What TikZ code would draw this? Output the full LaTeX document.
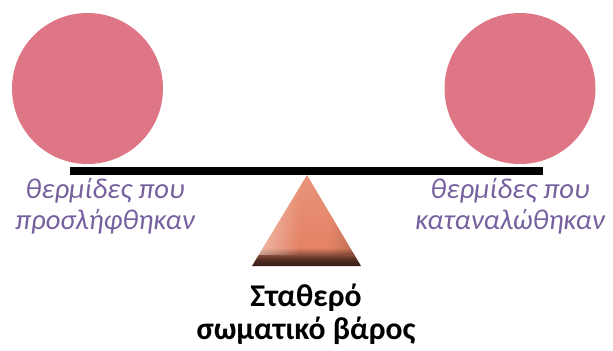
\documentclass[tikz,border=0pt]{standalone}
\usepackage{fontspec}
\setmainfont{Carlito}
\usetikzlibrary{calc,fadings}
\definecolor{calpink}{RGB}{223,118,134}
\definecolor{calpurple}{RGB}{118,96,158}
\definecolor{wedge}{RGB}{228,130,100}
\definecolor{wedgedark}{RGB}{52,28,20}
\pgfdeclareverticalshading{wedgeshade}{100bp}{color(0bp)=(wedgedark); color(25bp)=(wedgedark); color(29bp)=(wedgedark!80!wedge); color(35bp)=(wedge); color(75bp)=(wedge!85!white); color(100bp)=(wedge!85!white)}

\begin{document}
\begin{tikzpicture}[
    scale=1.0,
    weight/.style={circle, fill=calpink, minimum size=3.02cm, inner sep=0pt},
    side/.style={align=center, text=calpurple, font=\fontsize{16.3}{17.6}\selectfont\itshape},
    result/.style={align=center, font=\fontsize{18}{18.7}\selectfont\bfseries},
    beam/.style={line width=0.16cm}
]
  \useasboundingbox (0,0) rectangle (12.26,7);
  % the two piles of calories
  \node[weight] (intake) at (1.75,5.23) {};
  \node[weight] (burned) at (10.4,5.23) {};
  % beam and pivot
  \coordinate (beamL) at (1.4,3.58);
  \coordinate (beamR) at (10.86,3.58);
  \draw[beam] (beamL) -- (beamR);
  \coordinate (top) at (6.14,3.5);
  \coordinate (baseL) at (5.04,1.68);
  \coordinate (baseR) at (7.22,1.68);
  \shade[shading=wedgeshade] (top) -- (baseL) -- (baseR) -- cycle;
  \begin{scope}
    \clip (top) -- (baseL) -- (baseR) -- cycle;
    \fill[white, opacity=0.5, path fading=east] (5.04,1.9) rectangle (6.0,3.5);
    \fill[wedgedark, opacity=0.25, path fading=west] (6.6,1.9) rectangle (7.22,3.5);
  \end{scope}
  % labels
  \node[side] (intakelbl) at (2.1,2.87) {θερμίδες που\\προσλήφθηκαν};
  \node[side] (burnedlbl) at (10.2,2.87) {θερμίδες που\\καταναλώθηκαν};
  \node[result] (steady) at (6.12,0.71) {Σταθερό\\σωματικό βάρος};
\end{tikzpicture}
\end{document}
